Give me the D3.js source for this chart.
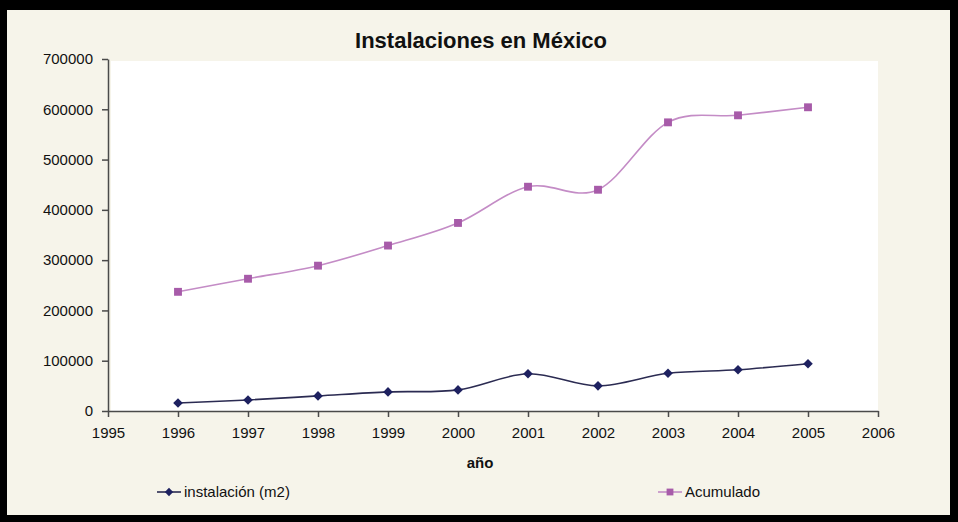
<!DOCTYPE html>
<html lang="es">
<head>
    <meta charset="UTF-8"/>
    <title>Instalaciones en México</title>
    <script src="https://d3js.org/d3.v7.min.js"></script>
    <style>
        body { margin: 0; background: #000; }
        text { font-family: "Liberation Sans", Arial, sans-serif; fill: #111; }
    </style>
</head>
<body>
<script>
    var w = 958;
    var h = 522;

    // data
    var years = [1996, 1997, 1998, 1999, 2000, 2001, 2002, 2003, 2004, 2005];
    var instalacion = [16000, 22000, 30000, 38000, 42000, 74000, 50000, 75000, 82000, 94000];
    var acumulado = [237000, 263000, 289000, 329000, 374000, 446000, 440000, 574000, 588000, 604000];
    var xTicks = [1995, 1996, 1997, 1998, 1999, 2000, 2001, 2002, 2003, 2004, 2005, 2006];
    var yTicks = [0, 100000, 200000, 300000, 400000, 500000, 600000, 700000];

    var plotLeft = 108, plotRight = 878, plotTop = 59, plotBottom = 411;

    var svg = d3.select("body")
                .append("svg")
                .attr("width", w)
                .attr("height", h);

    // black frame + cream chart area
    svg.append("rect")
        .attr("width", w).attr("height", h)
        .attr("fill", "#000");
    svg.append("rect")
        .attr("x", 7).attr("y", 10)
        .attr("width", 943).attr("height", 505)
        .attr("fill", "#f6f4ea");

    var xScale = d3.scaleLinear()
                    .domain([1995, 2006])
                    .range([plotLeft, plotRight]);

    var yScale = d3.scaleLinear()
                    .domain([0, 700000])
                    .range([plotBottom, plotTop]);

    // plot area
    svg.append("rect")
        .attr("x", plotLeft + 3).attr("y", plotTop + 2)
        .attr("width", plotRight - plotLeft - 3).attr("height", plotBottom - plotTop - 2)
        .attr("fill", "#ffffff");

    var xAxis = svg.append("g")
        .attr("transform", "translate(0," + plotBottom + ")")
        .call(d3.axisBottom(xScale).tickValues(xTicks).tickFormat(d3.format("d"))
              .tickSize(6).tickSizeOuter(0).tickPadding(10));

    var yAxis = svg.append("g")
        .attr("transform", "translate(" + plotLeft + ",0)")
        .call(d3.axisLeft(yScale).tickValues(yTicks).tickFormat(d3.format("d"))
              .tickSize(6).tickSizeOuter(0).tickPadding(9));

    [xAxis, yAxis].forEach(function(g) {
        g.select(".domain").attr("stroke", "#4a4a4a").attr("stroke-width", 1.5);
        g.selectAll(".tick line").attr("stroke", "#4a4a4a").attr("stroke-width", 1.5);
        g.selectAll(".tick text")
         .attr("font-size", "15px")
         .attr("fill", "#1a1a1a")
         .style("font-family", "'Liberation Sans', Arial, sans-serif");
    });

    // title and axis label
    svg.append("text")
        .attr("x", 481).attr("y", 48)
        .attr("text-anchor", "middle")
        .attr("font-size", "22px")
        .attr("font-weight", "bold")
        .text("Instalaciones en México");

    svg.append("text")
        .attr("x", 480).attr("y", 468)
        .attr("text-anchor", "middle")
        .attr("font-size", "15px")
        .attr("font-weight", "bold")
        .text("año");

    var line = d3.line()
                 .x(function(d) { return xScale(d[0]); })
                 .y(function(d) { return yScale(d[1]); })
                 .curve(d3.curveCatmullRom.alpha(0));

    // diamond = square turned 45 degrees, like the spreadsheet marker
    var series = [
        { name: "instalación (m2)", values: instalacion, line: "#2b2b52", marker: "#1e2160", size: 46, rot: 45 },
        { name: "Acumulado", values: acumulado, line: "#c48cc6", marker: "#a75ba9", size: 62, rot: 0 }
    ];

    series.forEach(function(s) {
        var pts = years.map(function(y, i) { return [y, s.values[i]]; });

        svg.append("path")
            .datum(pts)
            .attr("d", line)
            .attr("fill", "none")
            .attr("stroke", s.line)
            .attr("stroke-width", 1.6);

        svg.selectAll(null)
            .data(pts)
            .enter()
            .append("path")
            .attr("d", d3.symbol().type(d3.symbolSquare).size(s.size))
            .attr("transform", function(d) {
                return "translate(" + xScale(d[0]) + "," + yScale(d[1]) + ") rotate(" + s.rot + ")";
            })
            .attr("fill", s.marker);
    });

    // legend
    var legendX = [157, 658];
    series.forEach(function(s, i) {
        var g = svg.append("g").attr("transform", "translate(" + legendX[i] + ",492)");
        g.append("line")
            .attr("x1", 0).attr("x2", 24)
            .attr("stroke", s.line).attr("stroke-width", 1.6);
        g.append("path")
            .attr("d", d3.symbol().type(d3.symbolSquare).size(s.size * 0.75))
            .attr("transform", "translate(12,0) rotate(" + s.rot + ")")
            .attr("fill", s.marker);
        g.append("text")
            .attr("x", 27).attr("y", 5)
            .attr("font-size", "15px")
            .text(s.name);
    });
</script>
</body>
</html>
